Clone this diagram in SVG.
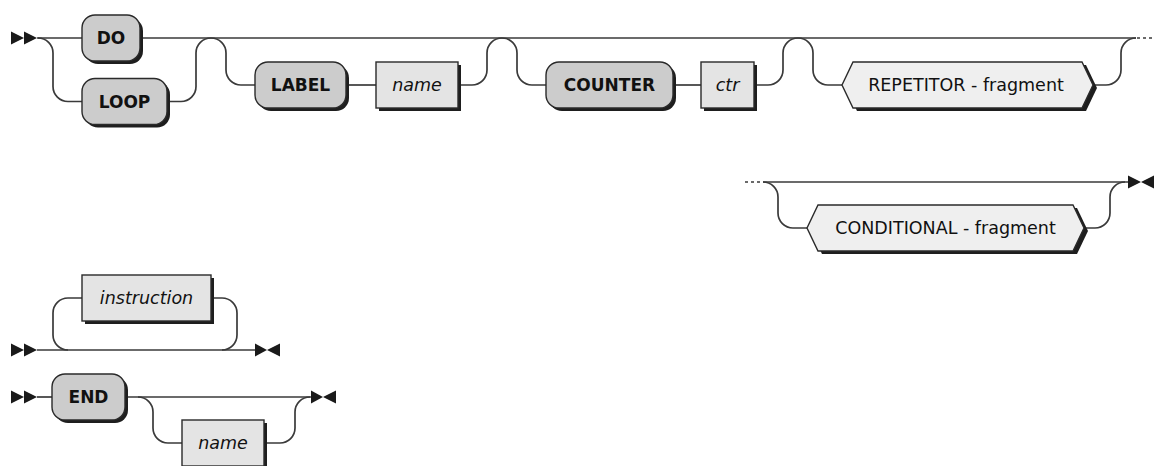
<svg xmlns="http://www.w3.org/2000/svg" width="1155" height="466" viewBox="0 0 1155 466">
<style>
.c{fill:none;stroke:#3a3a3a;stroke-width:1.7}
.d{fill:none;stroke:#3a3a3a;stroke-width:1.7;stroke-dasharray:3 3}
.ar{fill:#1a1a1a;stroke:none}
.sh{fill:#1e1e1e;stroke:none}
.kw{fill:#cccccc;stroke:#2a2a2a;stroke-width:1.4}
.id{fill:#e4e4e4;stroke:#2a2a2a;stroke-width:1.4}
.fr{fill:#efefef;stroke:#2a2a2a;stroke-width:1.4}
.tk{font-family:"DejaVu Sans",Verdana,sans-serif;font-size:17px;font-weight:bold;fill:#111;text-anchor:middle}
.ti{font-family:"DejaVu Sans",Verdana,sans-serif;font-size:17.5px;font-style:italic;fill:#111;text-anchor:middle}
.tf{font-family:"DejaVu Sans",Verdana,sans-serif;font-size:17.5px;fill:#111;text-anchor:middle}
</style>
<rect width="1155" height="466" fill="#fff"/>
<g id="connectors">
  <polygon class="ar" points="11,31.5 24,38 11,44.5"/>
  <polygon class="ar" points="24,31.5 37,38 24,44.5"/>
  <path class="c" d="M37 38 H1136"/>
  <path class="c" d="M38 38 A15 15 0 0 1 53 53 V86.5 A15 15 0 0 0 68 101.5 H82"/>
  <path class="c" d="M167 101.5 H181 A15 15 0 0 0 196 86.5 V53 A15 15 0 0 1 211 38 A15 15 0 0 1 226 53 V70 A15 15 0 0 0 241 85 H255"/>
  <path class="c" d="M346 85 H376"/>
  <path class="c" d="M458 85 H472 A15 15 0 0 0 487 70 V53 A15 15 0 0 1 502 38 A15 15 0 0 1 517 53 V70 A15 15 0 0 0 532 85 H546"/>
  <path class="c" d="M673 85 H701"/>
  <path class="c" d="M754 85 H768 A15 15 0 0 0 783 70 V53 A15 15 0 0 1 798 38 A15 15 0 0 1 813 53 V70 A15 15 0 0 0 828 85 H842"/>
  <path class="c" d="M1093 85 H1106 A15 15 0 0 0 1121 70 V53 A15 15 0 0 1 1136 38"/>
  <path class="d" d="M1137 38 H1155"/>

  <path class="d" d="M745 182 H763"/>
  <path class="c" d="M763 182 H1128"/>
  <path class="c" d="M763 182 A15 15 0 0 1 778 197 V213 A15 15 0 0 0 793 228 H807"/>
  <path class="c" d="M1084 228 H1095 A15 15 0 0 0 1110 213 V197 A15 15 0 0 1 1125 182"/>
  <polygon class="ar" points="1128,175.5 1141,182 1128,188.5"/>
  <polygon class="ar" points="1154,175.5 1141,182 1154,188.5"/>

  <polygon class="ar" points="11,343.5 24,350 11,356.5"/>
  <polygon class="ar" points="24,343.5 37,350 24,356.5"/>
  <path class="c" d="M37 350 H255"/>
  <path class="c" d="M82 298 H68 A15 15 0 0 0 53 313 V335 A15 15 0 0 0 68 350"/>
  <path class="c" d="M211 298 H222 A15 15 0 0 1 237 313 V335 A15 15 0 0 1 222 350"/>
  <polygon class="ar" points="255,343.5 267,350 255,356.5"/>
  <polygon class="ar" points="280,343.5 267,350 280,356.5"/>

  <polygon class="ar" points="11,390.5 24,397 11,403.5"/>
  <polygon class="ar" points="24,390.5 37,397 24,403.5"/>
  <path class="c" d="M37 397 H52"/>
  <path class="c" d="M125 397 H311"/>
  <path class="c" d="M138 397 A15 15 0 0 1 153 412 V428 A15 15 0 0 0 168 443 H182"/>
  <path class="c" d="M264 443 H280 A15 15 0 0 0 295 428 V412 A15 15 0 0 1 310 397"/>
  <polygon class="ar" points="311,390.5 323,397 311,403.5"/>
  <polygon class="ar" points="336,390.5 323,397 336,403.5"/>
</g>
<g id="node-do">
  <rect class="sh" x="85" y="18" width="58" height="46" rx="13"/>
  <rect class="kw" x="82" y="15" width="58" height="46" rx="13"/>
  <text class="tk" x="111" y="44">DO</text>
</g>
<g id="node-loop">
  <rect class="sh" x="85" y="81.5" width="85" height="46" rx="13"/>
  <rect class="kw" x="82" y="78.5" width="85" height="46" rx="13"/>
  <text class="tk" x="124.5" y="107.5">LOOP</text>
</g>
<g id="node-label">
  <rect class="sh" x="258" y="65" width="91" height="46" rx="13"/>
  <rect class="kw" x="255" y="62" width="91" height="46" rx="13"/>
  <text class="tk" x="300.5" y="91">LABEL</text>
</g>
<g id="node-name1">
  <rect class="sh" x="379" y="65" width="82" height="46"/>
  <rect class="id" x="376" y="62" width="82" height="46"/>
  <text class="ti" x="417" y="91">name</text>
</g>
<g id="node-counter">
  <rect class="sh" x="549" y="65" width="127" height="46" rx="13"/>
  <rect class="kw" x="546" y="62" width="127" height="46" rx="13"/>
  <text class="tk" x="609.5" y="91">COUNTER</text>
</g>
<g id="node-ctr">
  <rect class="sh" x="704" y="65" width="53" height="46"/>
  <rect class="id" x="701" y="62" width="53" height="46"/>
  <text class="ti" x="727.5" y="91">ctr</text>
</g>
<g id="node-repetitor">
  <polygon class="sh" points="846,88 857,65 1086,65 1097,88 1086,111 857,111"/>
  <polygon class="fr" points="842,85 853,62 1082,62 1093,85 1082,108 853,108"/>
  <text class="tf" x="966" y="91">REPETITOR - fragment</text>
</g>
<g id="node-conditional">
  <polygon class="sh" points="811,231 822,208 1077,208 1088,231 1077,254 822,254"/>
  <polygon class="fr" points="807,228 818,205 1073,205 1084,228 1073,251 818,251"/>
  <text class="tf" x="945.5" y="234">CONDITIONAL - fragment</text>
</g>
<g id="node-instruction">
  <rect class="sh" x="85" y="278" width="129" height="46"/>
  <rect class="id" x="82" y="275" width="129" height="46"/>
  <text class="ti" x="146.5" y="304">instruction</text>
</g>
<g id="node-end">
  <rect class="sh" x="55" y="377" width="73" height="46" rx="13"/>
  <rect class="kw" x="52" y="374" width="73" height="46" rx="13"/>
  <text class="tk" x="88.5" y="403">END</text>
</g>
<g id="node-name2">
  <rect class="sh" x="185" y="423" width="82" height="46"/>
  <rect class="id" x="182" y="420" width="82" height="46"/>
  <text class="ti" x="223" y="449">name</text>
</g>
</svg>
